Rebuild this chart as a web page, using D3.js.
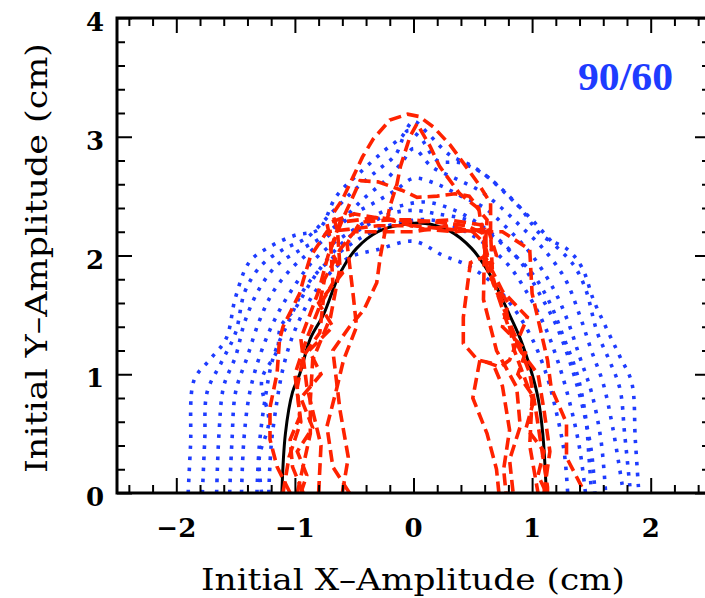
<!DOCTYPE html>
<html>
<head>
<meta charset="utf-8">
<script src="https://cdn.jsdelivr.net/npm/d3@7"></script>
<style>
  body { margin: 0; background: #fff; }
</style>
</head>
<body>
<div id="container"></div>
<script>
// tick values / labels
let xMajor = [-2, -1, 0, 1, 2];
let yMajor = [0, 1, 2, 3, 4];
let xMinor = [-2.4,-2.2,-1.8,-1.6,-1.4,-1.2,-0.8,-0.6,-0.4,-0.2,0.2,0.4,0.6,0.8,1.2,1.4,1.6,1.8,2.2,2.4];
let yMinor = [0.2,0.4,0.6,0.8,1.2,1.4,1.6,1.8,2.2,2.4,2.6,2.8,3.2,3.4,3.6,3.8];
let caseLabel = "90/60";

// black reference curve (x, y) in cm
let refCurve = [[-1.11,0],[-1.08,0.5],[-1.02,0.85],[-0.96,1.0],[-0.87,1.3],[-0.76,1.5],[-0.62,1.85],[-0.48,2.06],
  [-0.3,2.2],[-0.1,2.26],[0.1,2.27],[0.3,2.21],[0.49,2.06],[0.65,1.83],[0.81,1.5],[0.9,1.3],[1.0,1.0],[1.05,0.8],
  [1.09,0.5],[1.12,0]];

// blue dotted boundaries
let blueCurves = [
  [[-1.9,0],[-1.88,0.4],[-1.85,0.95],[-1.72,1.12],[-1.58,1.3],[-1.5,1.65],[-1.38,1.95],[-1.2,2.08],[-1.0,2.17],[-0.8,2.22],[-0.65,2.5],[-0.45,2.7],[-0.25,2.88],[-0.1,3.0],[0.0,3.13],[0.12,3.03],[0.3,2.85],[0.5,2.75],[0.7,2.6],[0.9,2.4],[1.08,2.17],[1.3,2.05],[1.42,1.9],[1.52,1.62],[1.63,1.38],[1.74,1.15],[1.84,0.93],[1.87,0.45],[1.9,0]],
  [[-1.78,0],[-1.76,0.45],[-1.74,0.85],[-1.62,1.1],[-1.5,1.35],[-1.42,1.7],[-1.28,1.92],[-1.1,2.05],[-0.9,2.15],[-0.7,2.35],[-0.5,2.55],[-0.3,2.72],[-0.15,2.85],[-0.05,3.05],[0.05,3.0],[0.2,2.8],[0.4,2.78],[0.6,2.68],[0.8,2.5],[1.0,2.3],[1.18,2.1],[1.35,1.92],[1.45,1.72],[1.55,1.35],[1.65,1.12],[1.74,0.88],[1.78,0.5],[1.83,0]],
  [[-1.66,0],[-1.64,0.5],[-1.6,0.9],[-1.5,1.15],[-1.42,1.45],[-1.3,1.72],[-1.15,1.92],[-0.95,2.05],[-0.78,2.15],[-0.6,2.3],[-0.42,2.48],[-0.25,2.62],[-0.1,2.78],[0.0,2.9],[0.15,2.75],[0.35,2.65],[0.55,2.55],[0.72,2.42],[0.9,2.25],[1.1,2.05],[1.28,1.8],[1.4,1.5],[1.5,1.2],[1.6,0.92],[1.68,0.55],[1.77,0]],
  [[-1.55,0],[-1.53,0.45],[-1.5,0.85],[-1.4,1.15],[-1.3,1.45],[-1.18,1.7],[-1.02,1.9],[-0.85,2.05],[-0.68,2.2],[-0.5,2.35],[-0.32,2.45],[-0.15,2.55],[0.0,2.65],[0.2,2.6],[0.4,2.5],[0.6,2.4],[0.8,2.22],[1.0,2.0],[1.18,1.72],[1.3,1.45],[1.4,1.15],[1.5,0.85],[1.58,0.45],[1.62,0]],
  [[-1.45,0],[-1.43,0.45],[-1.38,0.85],[-1.28,1.2],[-1.15,1.5],[-1.0,1.75],[-0.85,1.95],[-0.68,2.1],[-0.5,2.22],[-0.3,2.35],[-0.1,2.42],[0.1,2.45],[0.3,2.4],[0.5,2.3],[0.7,2.15],[0.9,1.95],[1.05,1.7],[1.2,1.42],[1.32,1.1],[1.42,0.75],[1.5,0.35],[1.53,0]],
  [[-1.32,0],[-1.3,0.4],[-1.25,0.8],[-1.18,1.15],[-1.05,1.45],[-0.92,1.72],[-0.75,1.92],[-0.55,2.08],[-0.35,2.2],[-0.1,2.28],[0.15,2.3],[0.4,2.22],[0.6,2.1],[0.8,1.92],[0.95,1.7],[1.1,1.42],[1.22,1.1],[1.32,0.75],[1.4,0.38],[1.45,0]],
  [[-1.22,0],[-1.2,0.4],[-1.15,0.78],[-1.1,1.05],[-1.02,1.32],[-0.9,1.58],[-0.75,1.8],[-0.55,1.98],[-0.3,2.05],[0.0,2.12],[0.25,2.0],[0.45,1.92],[0.65,1.78],[0.85,1.55],[1.0,1.3],[1.12,1.0],[1.2,0.7],[1.27,0.35],[1.3,0]],
  [[-1.28,0],[-1.3,0.3],[-1.22,0.6],[-1.28,0.95],[-1.15,1.2],[-1.12,1.4],[-1.0,1.55],[-0.85,1.8],[-0.7,2.0],[-0.55,2.15],[-0.4,2.25],[-0.2,2.35],[0,2.38],[0.2,2.35],[0.45,2.3],[0.62,2.2],[0.8,2.05],[1.0,1.85],[1.15,1.6],[1.27,1.3],[1.38,1.0],[1.45,0.65],[1.48,0.3],[1.5,0]]
];

// red dashed boundaries
let redCurves = [
  [[-0.98,0],[-0.87,0.5],[-0.87,0.78],[-0.85,1.12],[-0.7,1.48],[-0.62,1.9],[-0.64,2.2],[-0.68,2.35],[-0.6,2.47],[-0.51,2.66],[-0.43,2.83],[-0.34,2.98],[-0.2,3.14],[-0.05,3.19],[0.05,3.17],[0.17,3.08],[0.31,2.93],[0.42,2.78],[0.55,2.6],[0.65,2.44],[0.65,2.19],[0.67,1.77],[0.87,1.29],[0.98,1.01],[1.04,0.64],[1.13,0.05],[1.13,0]],
  [[-0.54,0],[-0.68,0.22],[-0.73,0.56],[-0.65,0.87],[-0.59,1.12],[-0.48,1.4],[-0.51,1.68],[-0.56,2.1],[-0.45,2.28],[-0.2,2.3],[0,2.3],[0.2,2.28],[0.45,2.25],[0.6,2.18],[0.59,1.63],[0.7,1.2],[0.87,0.89],[0.9,0.56],[0.81,0.28],[0.84,0]],
  [[-1.04,0],[-1.15,0.22],[-1.21,0.45],[-1.21,0.72],[-1.15,1.01],[-1.13,1.29],[-1.1,1.4],[-0.96,1.68],[-0.93,1.79],[-0.87,1.99],[-0.73,2.2],[-0.55,2.22],[-0.3,2.25],[0,2.25],[0.3,2.22],[0.55,2.2],[0.75,2.2],[0.98,2.05],[1.0,1.68],[1.13,1.12],[1.16,0.89],[1.29,0.59],[1.29,0.3],[1.43,0.03]],
  [[-0.93,0],[-1.02,0.22],[-1.04,0.45],[-0.96,0.64],[-0.98,0.89],[-0.93,1.15],[-0.79,1.35],[-0.76,1.63],[-0.68,1.77],[-0.7,2.13],[-0.73,2.27],[-0.5,2.35],[-0.2,2.3],[0.1,2.22],[0.35,2.2],[0.6,2.22],[0.62,2.0],[0.48,1.94],[0.42,1.48],[0.42,1.26],[0.54,1.12],[0.67,1.09],[0.75,0.9],[0.81,0.53],[0.76,0.2],[0.78,0]],
  [[-0.6,0],[-0.55,0.3],[-0.62,0.7],[-0.68,1.2],[-0.54,1.4],[-0.42,1.54],[-0.31,1.77],[-0.28,1.99],[-0.2,2.41],[-0.14,2.6],[-0.11,2.75],[-0.03,3.0],[0.03,3.11],[0.14,2.92],[0.22,2.75],[0.39,2.52],[0.53,2.41],[0.62,2.3],[0.6,2.0],[0.75,1.7],[0.96,1.48],[0.81,1.12],[0.73,1.06],[0.56,1.12],[0.5,0.8],[0.62,0.5],[0.7,0.2],[0.72,0]],
  [[-0.8,0],[-0.78,0.4],[-0.9,0.9],[-0.95,1.3],[-0.8,1.7],[-0.72,2.0],[-0.6,2.3],[-0.45,2.63],[-0.3,2.62],[-0.1,2.55],[0.03,2.49],[0.2,2.5],[0.35,2.52],[0.47,2.5],[0.55,2.4],[0.58,2.2],[0.62,1.9],[0.78,1.55],[0.85,1.2],[1.0,0.8],[0.98,0.4],[1.05,0]],
  [[-1.1,0],[-1.05,0.3],[-0.95,0.6],[-1.0,1.0],[-0.9,1.3],[-0.8,1.55],[-0.75,1.8],[-0.62,2.05],[-0.5,2.2],[-0.3,2.2],[0,2.2],[0.3,2.25],[0.5,2.2],[0.6,2.1],[0.7,1.7],[0.8,1.4],[0.9,1.2],[1.05,1.0],[1.1,0.7],[1.15,0.35],[1.1,0]],
  [[-0.95,0],[-0.9,0.15],[-0.98,0.35],[-0.85,0.55],[-0.95,0.8],[-0.78,1.0],[-0.88,1.2],[-0.68,1.4],[-0.8,1.6],[-0.6,1.85],[-0.7,2.05],[-0.62,2.28],[-0.3,2.32],[0,2.28],[0.3,2.3],[0.62,2.25],[0.7,2.0],[0.62,1.85],[0.8,1.6],[0.75,1.4],[0.95,1.2],[0.88,1.0],[1.02,0.8],[0.95,0.55],[1.1,0.35],[1.05,0.15],[1.12,0]]
];

let w = 705;
let h = 598;

let viz = d3.select("#container")
  .append("svg")
    .attr("width", w)
    .attr("height", h)
    .style("display", "block")
    .style("background-color", "white");

let xScale = d3.scaleLinear().domain([-2.5, 2.5]).range([117, 710]);
let yScale = d3.scaleLinear().domain([0, 4]).range([493, 18]);

let smoothLine = d3.line()
  .x(d => xScale(d[0]))
  .y(d => yScale(d[1]))
  .curve(d3.curveCatmullRom.alpha(0.5));
let roughLine = d3.line()
  .x(d => xScale(d[0]))
  .y(d => yScale(d[1]));

// blue dotted
viz.append("g").selectAll("path").data(blueCurves).enter()
  .append("path")
    .attr("d", smoothLine)
    .attr("fill", "none")
    .attr("stroke", "#1e3cff")
    .attr("stroke-width", 3.6)
    .attr("stroke-dasharray", "3.5,7.5");

// black solid
viz.append("path")
  .attr("d", smoothLine(refCurve))
  .attr("fill", "none")
  .attr("stroke", "black")
  .attr("stroke-width", 3);

// red dashed
viz.append("g").selectAll("path").data(redCurves).enter()
  .append("path")
    .attr("d", roughLine)
    .attr("fill", "none")
    .attr("stroke", "#ff2200")
    .attr("stroke-width", 3.6)
    .attr("stroke-dasharray", "12,6");

// frame + inward ticks
let bigTick = 15, smallTick = 8;
viz.append("g").attr("transform", "translate(0,493)")
  .call(d3.axisBottom(xScale).tickValues(xMajor).tickSizeInner(-bigTick).tickSizeOuter(0).tickFormat(""));
viz.append("g").attr("transform", "translate(0,493)")
  .call(d3.axisBottom(xScale).tickValues(xMinor).tickSizeInner(-smallTick).tickSizeOuter(0).tickFormat(""));
viz.append("g").attr("transform", "translate(0,18)")
  .call(d3.axisTop(xScale).tickValues(xMajor).tickSizeInner(-bigTick).tickSizeOuter(0).tickFormat(""));
viz.append("g").attr("transform", "translate(0,18)")
  .call(d3.axisTop(xScale).tickValues(xMinor).tickSizeInner(-smallTick).tickSizeOuter(0).tickFormat(""));
viz.append("g").attr("transform", "translate(117,0)")
  .call(d3.axisLeft(yScale).tickValues(yMajor).tickSizeInner(-bigTick).tickSizeOuter(0).tickFormat(""));
viz.append("g").attr("transform", "translate(117,0)")
  .call(d3.axisLeft(yScale).tickValues(yMinor).tickSizeInner(-smallTick).tickSizeOuter(0).tickFormat(""));
viz.append("g").attr("transform", "translate(710,0)")
  .call(d3.axisRight(yScale).tickValues(yMajor).tickSizeInner(-bigTick).tickSizeOuter(0).tickFormat(""));
viz.append("g").attr("transform", "translate(710,0)")
  .call(d3.axisRight(yScale).tickValues(yMinor).tickSizeInner(-smallTick).tickSizeOuter(0).tickFormat(""));

viz.selectAll(".domain").remove();
viz.selectAll(".tick line").attr("stroke", "black").attr("stroke-width", 2);

viz.append("rect")
  .attr("x", 117).attr("y", 18)
  .attr("width", 593).attr("height", 475)
  .attr("fill", "none")
  .attr("stroke", "black")
  .attr("stroke-width", 3);

// tick labels
function fmt(v) { return v < 0 ? "\u2212" + Math.abs(v) : String(v); }

viz.selectAll(".xlab").data(xMajor).enter()
  .append("text")
    .attr("class", "xlab")
    .attr("x", d => xScale(d))
    .attr("y", 537)
    .attr("text-anchor", "middle")
    .style("font-family", "DejaVu Serif")
    .style("font-weight", "bold")
    .style("font-size", "26px")
    .text(fmt);

viz.selectAll(".ylab").data(yMajor).enter()
  .append("text")
    .attr("class", "ylab")
    .attr("x", 104)
    .attr("y", d => yScale(d) + 13)
    .attr("text-anchor", "end")
    .style("font-family", "DejaVu Serif")
    .style("font-weight", "bold")
    .style("font-size", "26px")
    .text(fmt);

// axis titles
viz.append("text")
  .attr("x", 413).attr("y", 590)
  .attr("text-anchor", "middle")
  .attr("textLength", 424)
  .attr("lengthAdjust", "spacingAndGlyphs")
  .style("font-family", "DejaVu Serif")
  .style("font-size", "30px")
  .text("Initial X\u2013Amplitude (cm)");

viz.append("text")
  .attr("transform", "translate(47,258) rotate(-90)")
  .attr("text-anchor", "middle")
  .attr("textLength", 430)
  .attr("lengthAdjust", "spacingAndGlyphs")
  .style("font-family", "DejaVu Serif")
  .style("font-size", "30px")
  .text("Initial Y\u2013Amplitude (cm)");

// case label
viz.append("text")
  .attr("x", 578).attr("y", 90)
  .attr("textLength", 95)
  .attr("lengthAdjust", "spacingAndGlyphs")
  .style("font-family", "Liberation Serif")
  .style("font-weight", "bold")
  .style("font-size", "41px")
  .style("fill", "#1e3cff")
  .text(caseLabel);
</script>
</body>
</html>
